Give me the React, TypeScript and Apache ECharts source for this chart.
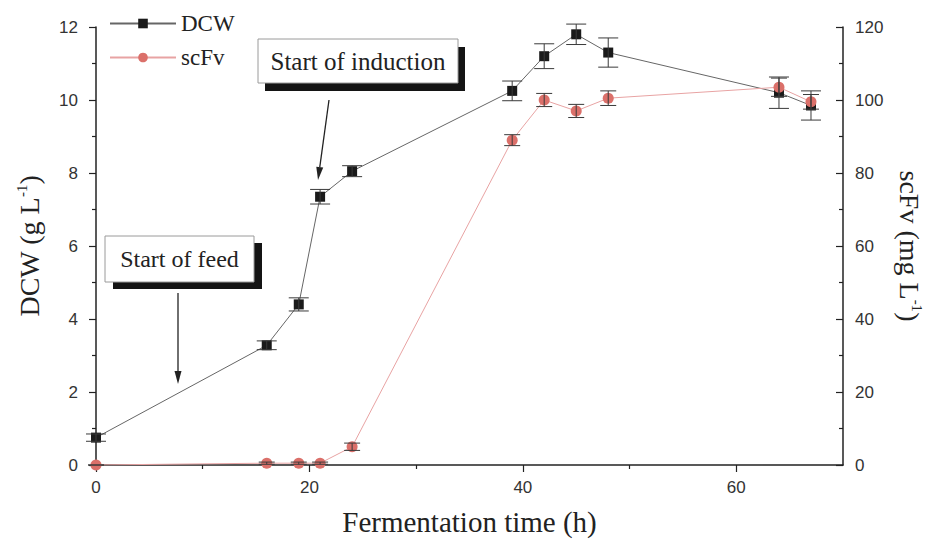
import React, { useEffect, useRef } from "react";
import * as echarts from "echarts";

// ---- data ----
const timeH = [0, 16, 19, 21, 24, 39, 42, 45, 48, 64, 67];
const dcw = [0.75, 3.28, 4.4, 7.35, 8.05, 10.25, 11.2, 11.8, 11.3, 10.2, 9.85];
const dcwErr = [0.1, 0.12, 0.18, 0.2, 0.15, 0.27, 0.34, 0.28, 0.4, 0.43, 0.4];
const scfv = [0, 0.5, 0.5, 0.5, 5, 89, 100, 97, 100.5, 103.5, 99.5];
const scfvErr = [0, 0.3, 0.3, 0.3, 1, 1.5, 1.8, 1.8, 2, 2.5, 2];
const xMajorTicks = [0, 20, 40, 60];
const xMinorTicks = [10, 30, 50];

const SERIF = "Liberation Serif";
const SANS = "Liberation Sans";

function errorBarSeries(name: string, values: number[], errs: number[], yAxisIndex: number, capW: number) {
  return {
    name,
    type: "custom",
    xAxisIndex: 0,
    yAxisIndex,
    z: 5,
    data: timeH.map((t, i) => [t, values[i] - errs[i], values[i] + errs[i]]),
    renderItem: (params: any, api: any) => {
      const x = api.value(0);
      const lo = api.value(1);
      const hi = api.value(2);
      const p1 = api.coord([x, hi]);
      const p2 = api.coord([x, lo]);
      const w = capW / 2;
      const style = { stroke: "#3a3a3a", lineWidth: 1 };
      return {
        type: "group",
        children: [
          { type: "line", shape: { x1: p1[0], y1: p1[1], x2: p2[0], y2: p2[1] }, style },
          { type: "line", shape: { x1: p1[0] - w, y1: p1[1], x2: p1[0] + w, y2: p1[1] }, style },
          { type: "line", shape: { x1: p2[0] - w, y1: p2[1], x2: p2[0] + w, y2: p2[1] }, style },
        ],
      };
    },
  };
}

function shadowBox(x: number, y: number, w: number, h: number, dx: number, dy: number, text: string, fontSize: number) {
  return [
    { type: "rect", z: 50, shape: { x: x + dx, y: y + dy, width: w, height: h }, style: { fill: "#141414" } },
    { type: "rect", z: 51, shape: { x, y, width: w, height: h }, style: { fill: "#ffffff", stroke: "#9a9a9a", lineWidth: 1 } },
    {
      type: "text",
      z: 52,
      x: x + w / 2,
      y: y + h / 2,
      style: { text, fontFamily: SERIF, fontSize, fill: "#222", align: "center", verticalAlign: "middle" },
    },
  ];
}

function arrow(x1: number, y1: number, x2: number, y2: number) {
  const ang = Math.atan2(y2 - y1, x2 - x1);
  const len = 13;
  const hw = 3.5;
  const bx = x2 - len * Math.cos(ang);
  const by = y2 - len * Math.sin(ang);
  const nx = -Math.sin(ang);
  const ny = Math.cos(ang);
  return [
    { type: "line", z: 50, shape: { x1, y1, x2: bx, y2: by }, style: { stroke: "#222", lineWidth: 1.3 } },
    {
      type: "polygon",
      z: 50,
      shape: { points: [[x2, y2], [bx + nx * hw, by + ny * hw], [bx - nx * hw, by - ny * hw]] },
      style: { fill: "#222" },
    },
  ];
}

export default function App() {
  const ref = useRef<HTMLDivElement>(null);
  useEffect(() => {
    if (!ref.current) return;
    const chart = echarts.init(ref.current, null, { renderer: "svg" });
    const axisLineStyle = { color: "#222", width: 1.5 };
    const labelStyle = { fontFamily: SANS, fontSize: 17, color: "#333" };
    chart.setOption({
      animation: false,
      backgroundColor: "#ffffff",
      grid: { left: 96, right: 93, top: 27, bottom: 78, containLabel: false },
      legend: {
        data: ["DCW", "scFv"],
        orient: "vertical",
        left: 104,
        top: 7,
        itemWidth: 66,
        itemHeight: 12,
        itemGap: 11,
        textStyle: { fontFamily: SERIF, fontSize: 23, color: "#222" },
      },
      xAxis: [
        {
          type: "value",
          min: 0,
          max: 70,
          interval: 20,
          axisLine: { show: true, onZero: false, lineStyle: axisLineStyle },
          axisTick: { show: true, length: 7, customValues: xMajorTicks, lineStyle: { color: "#222", width: 1.2 } },
          axisLabel: { customValues: xMajorTicks, margin: 14, ...labelStyle },
          splitLine: { show: false },
          name: "Fermentation time (h)",
          nameLocation: "middle",
          nameGap: 42,
          nameTextStyle: { fontFamily: SERIF, fontSize: 29, color: "#222" },
        },
        {
          type: "value",
          min: 0,
          max: 70,
          position: "bottom",
          axisLine: { show: false },
          axisTick: { show: true, length: 4, customValues: xMinorTicks, lineStyle: { color: "#222", width: 1.2 } },
          axisLabel: { show: false },
          splitLine: { show: false },
        },
      ],
      yAxis: [
        {
          type: "value",
          min: 0,
          max: 12,
          interval: 2,
          position: "left",
          axisLine: { show: true, onZero: false, lineStyle: axisLineStyle },
          axisTick: { show: true, length: 7, lineStyle: { color: "#222", width: 1.2 } },
          minorTick: { show: true, splitNumber: 2, length: 4, lineStyle: { color: "#222", width: 1.2 } },
          axisLabel: { margin: 18, ...labelStyle },
          splitLine: { show: false },
          name: "DCW (g L{sup|-1})",
          nameLocation: "middle",
          nameRotate: 90,
          nameGap: 52,
          nameTextStyle: {
            fontFamily: SERIF,
            fontSize: 28,
            color: "#222",
            lineHeight: 30,
            rich: { sup: { fontFamily: SERIF, fontSize: 15, lineHeight: 15, verticalAlign: "top", color: "#222" } },
          },
        },
        {
          type: "value",
          min: 0,
          max: 120,
          interval: 20,
          position: "right",
          axisLine: { show: true, onZero: false, lineStyle: axisLineStyle },
          axisTick: { show: true, inside: true, length: 7, lineStyle: { color: "#222", width: 1.2 } },
          minorTick: { show: true, splitNumber: 2, length: 4, lineStyle: { color: "#222", width: 1.2 } },
          axisLabel: { margin: 12, ...labelStyle },
          splitLine: { show: false },
          name: "scFv (mg L{sup|-1})",
          nameLocation: "middle",
          nameRotate: -90,
          nameGap: 48,
          nameTextStyle: {
            fontFamily: SERIF,
            fontSize: 28,
            color: "#222",
            lineHeight: 30,
            rich: { sup: { fontFamily: SERIF, fontSize: 15, lineHeight: 15, verticalAlign: "top", color: "#222" } },
          },
        },
      ],
      series: [
        {
          name: "DCW",
          type: "line",
          xAxisIndex: 0,
          yAxisIndex: 0,
          data: timeH.map((t, i) => [t, dcw[i]]),
          symbol: "rect",
          symbolSize: 10,
          lineStyle: { color: "#666", width: 1 },
          itemStyle: { color: "#1a1a1a" },
          z: 3,
        },
        errorBarSeries("DCW err", dcw, dcwErr, 0, 20),
        {
          name: "scFv",
          type: "line",
          xAxisIndex: 0,
          yAxisIndex: 1,
          data: timeH.map((t, i) => [t, scfv[i]]),
          symbol: "circle",
          symbolSize: 11,
          lineStyle: { color: "#e8a3a3", width: 1 },
          itemStyle: { color: "#db706a" },
          z: 4,
        },
        errorBarSeries("scFv err", scfv, scfvErr, 1, 16),
      ],
      graphic: [
        ...shadowBox(258, 39, 200, 44, 7, 8, "Start of induction", 25),
        ...shadowBox(105, 236, 149, 46, 8, 7, "Start of feed", 24),
        ...arrow(178, 293, 178, 384),
        ...arrow(329, 100, 318, 180),
      ],
    });
    return () => chart.dispose();
  }, []);
  return <div ref={ref} style={{ position: "absolute", left: 0, top: 0, width: 936, height: 543 }} />;
}
